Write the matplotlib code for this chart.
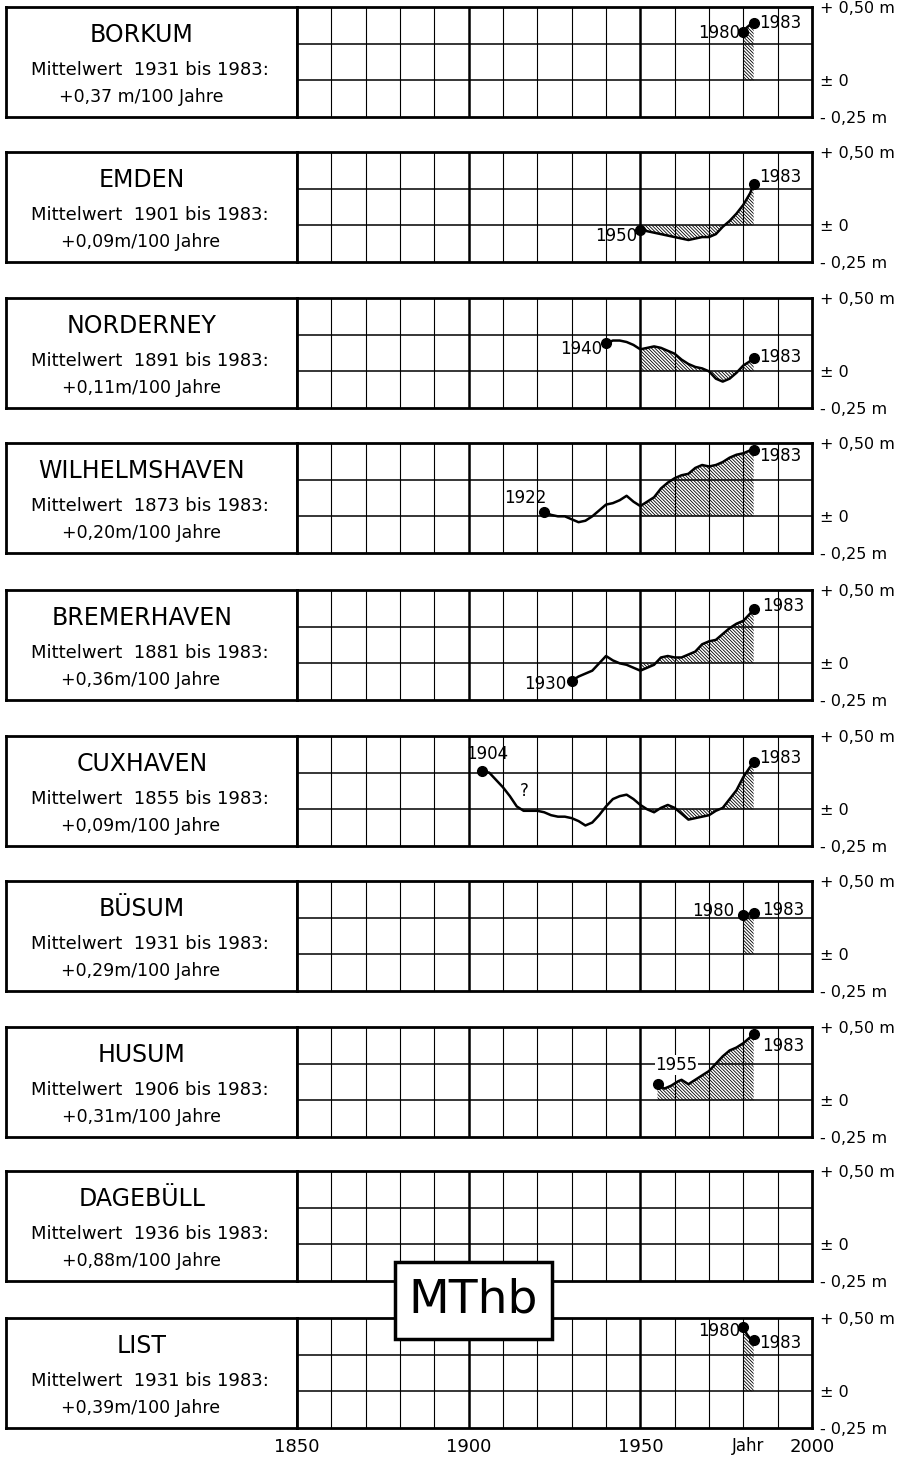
import numpy as np
import matplotlib.pyplot as plt
from matplotlib.patches import Rectangle

plt.rcParams['font.family'] = ['DejaVu Sans']
plt.rcParams['hatch.linewidth'] = 0.6

# station texts
stations = ['BORKUM', 'EMDEN', 'NORDERNEY', 'WILHELMSHAVEN', 'BREMERHAVEN',
            'CUXHAVEN', 'BÜSUM', 'HUSUM', 'DAGEBÜLL', 'LIST']
start_years = ['1931', '1901', '1891', '1873', '1881', '1855', '1931', '1906', '1936', '1931']
rates = ['+0,37 m/100 Jahre', '+0,09m/100 Jahre', '+0,11m/100 Jahre', '+0,20m/100 Jahre',
         '+0,36m/100 Jahre', '+0,09m/100 Jahre', '+0,29m/100 Jahre', '+0,31m/100 Jahre',
         '+0,88m/100 Jahre', '+0,39m/100 Jahre']

# mean high water curves (m)
borkum_years = [1980, 1981, 1982, 1983]
borkum_vals = [0.33, 0.36, 0.38, 0.39]

emden_years = [1950, 1952, 1954, 1956, 1958, 1960, 1962, 1964, 1966, 1968, 1970,
               1972, 1974, 1976, 1978, 1980, 1982, 1983]
emden_vals = [-0.03, -0.04, -0.05, -0.06, -0.07, -0.08, -0.09, -0.10, -0.09, -0.08,
              -0.08, -0.06, -0.01, 0.03, 0.08, 0.14, 0.22, 0.28]

norderney_years = [1940, 1942, 1944, 1946, 1948, 1950, 1952, 1954, 1956, 1958, 1960,
                   1962, 1964, 1966, 1968, 1970, 1972, 1974, 1976, 1978, 1980, 1982, 1983]
norderney_vals = [0.19, 0.21, 0.21, 0.20, 0.18, 0.15, 0.16, 0.17, 0.16, 0.14, 0.12,
                  0.08, 0.05, 0.03, 0.02, 0.00, -0.05, -0.07, -0.05, -0.01, 0.04, 0.07, 0.09]

wilhelmshaven_years = [1922, 1924, 1926, 1928, 1930, 1932, 1934, 1936, 1938, 1940, 1942,
                       1944, 1946, 1948, 1950, 1952, 1954, 1956, 1958, 1960, 1962, 1964,
                       1966, 1968, 1970, 1972, 1974, 1976, 1978, 1980, 1982, 1983]
wilhelmshaven_vals = [0.03, 0.01, 0.00, 0.00, -0.02, -0.04, -0.03, 0.00, 0.04, 0.08, 0.09,
                      0.11, 0.14, 0.10, 0.07, 0.10, 0.13, 0.19, 0.23, 0.26, 0.28, 0.29,
                      0.33, 0.35, 0.34, 0.35, 0.37, 0.40, 0.42, 0.43, 0.45, 0.45]

bremerhaven_years = [1930, 1932, 1934, 1936, 1938, 1940, 1942, 1944, 1946, 1948, 1950,
                     1952, 1954, 1956, 1958, 1960, 1962, 1964, 1966, 1968, 1970, 1972,
                     1974, 1976, 1978, 1980, 1982, 1983]
bremerhaven_vals = [-0.12, -0.09, -0.07, -0.05, 0.00, 0.05, 0.02, 0.00, -0.01, -0.03, -0.05,
                    -0.03, -0.01, 0.04, 0.05, 0.04, 0.04, 0.06, 0.08, 0.13, 0.15, 0.16,
                    0.20, 0.24, 0.27, 0.29, 0.34, 0.37]

cuxhaven_years = [1904, 1906, 1908, 1910, 1912, 1914, 1916, 1918, 1920, 1922, 1924, 1926,
                  1928, 1930, 1932, 1934, 1936, 1938, 1940, 1942, 1944, 1946, 1948, 1950,
                  1952, 1954, 1956, 1958, 1960, 1962, 1964, 1966, 1968, 1970, 1972, 1974,
                  1976, 1978, 1980, 1982, 1983]
cuxhaven_vals = [0.26, 0.25, 0.20, 0.15, 0.09, 0.02, -0.01, -0.01, -0.01, -0.02, -0.04, -0.05,
                 -0.05, -0.06, -0.08, -0.11, -0.09, -0.04, 0.02, 0.07, 0.09, 0.10, 0.07, 0.03,
                 0.00, -0.02, 0.01, 0.03, 0.01, -0.03, -0.07, -0.06, -0.05, -0.04, -0.01, 0.01,
                 0.07, 0.13, 0.22, 0.29, 0.32]

buesum_years = [1980, 1981, 1982, 1983]
buesum_vals = [0.27, 0.27, 0.28, 0.28]

husum_years = [1955, 1957, 1959, 1961, 1962, 1964, 1966, 1968, 1970, 1972, 1974, 1976,
               1978, 1980, 1981, 1982, 1983]
husum_vals = [0.11, 0.08, 0.10, 0.13, 0.14, 0.11, 0.14, 0.17, 0.20, 0.25, 0.30, 0.34,
              0.36, 0.39, 0.41, 0.43, 0.45]

list_years = [1980, 1981, 1982, 1983]
list_vals = [0.44, 0.39, 0.36, 0.35]

series = [(borkum_years, borkum_vals), (emden_years, emden_vals),
          (norderney_years, norderney_vals), (wilhelmshaven_years, wilhelmshaven_vals),
          (bremerhaven_years, bremerhaven_vals), (cuxhaven_years, cuxhaven_vals),
          (buesum_years, buesum_vals), (husum_years, husum_vals), None,
          (list_years, list_vals)]

# year labels next to the curves: (text, x, y, ha)
notes = [
    [('1980', 1979, 0.32, 'right'), ('1983', 1984.5, 0.39, 'left')],
    [('1950', 1949, -0.07, 'right'), ('1983', 1984.5, 0.33, 'left')],
    [('1940', 1939, 0.15, 'right'), ('1983', 1984.5, 0.095, 'left')],
    [('1922', 1916.5, 0.125, 'center'), ('1983', 1984.5, 0.41, 'left')],
    [('1930', 1928.5, -0.14, 'right'), ('1983', 1985.5, 0.39, 'left')],
    [('1904', 1905.5, 0.375, 'center'), ('1983', 1984.5, 0.35, 'left'), ('?', 1916.3, 0.125, 'center')],
    [('1980', 1977.5, 0.295, 'right'), ('1983', 1985.5, 0.30, 'left')],
    [('1955', 1960.5, 0.24, 'center'), ('1983', 1985.5, 0.37, 'left')],
    [],
    [('1980', 1979, 0.41, 'right'), ('1983', 1984.5, 0.33, 'left')],
]

W, H = 909, 1458
fig = plt.figure(figsize=(W / 100, H / 100), dpi=100)


def rect(x0, y0, x1, y1):
    return [x0 / W, 1 - y1 / H, (x1 - x0) / W, (y1 - y0) / H]


tops = [7, 152, 298, 443, 590, 736, 881, 1027, 1171, 1318]
panel_h = 110
x_left, x_mid, x_right = 6, 297, 812

for i, name in enumerate(stations):
    t = tops[i]
    b = t + panel_h

    # text box
    tax = fig.add_axes(rect(x_left, t, x_mid, b))
    tax.set_xticks([])
    tax.set_yticks([])
    for s in tax.spines.values():
        s.set_linewidth(2)
    tax.text(0.467, 0.745, name, ha='center', va='center', fontsize=17)
    tax.text(0.495, 0.43, f'Mittelwert  {start_years[i]} bis 1983:', ha='center',
             va='center', fontsize=13)
    tax.text(0.464, 0.18, rates[i], ha='center', va='center', fontsize=12.5)

    # chart
    ax = fig.add_axes(rect(x_mid, t, x_right, b))
    ax.set_xlim(1850, 2000)
    ax.set_ylim(-0.25, 0.5)
    for s in ax.spines.values():
        s.set_linewidth(2)
    for yr in range(1860, 2000, 10):
        lw = 1.8 if yr in (1900, 1950) else 0.8
        ax.axvline(yr, color='black', lw=lw, zorder=1)
    for lev in (0.0, 0.25):
        ax.axhline(lev, color='black', lw=1.1, zorder=1)

    ax.yaxis.tick_right()
    ax.set_yticks([-0.25, 0, 0.5])
    ax.set_yticklabels(['- 0,25 m', '± 0', '+ 0,50 m'], fontsize=11.5)
    ax.tick_params(axis='y', length=0, pad=6)

    if i == len(stations) - 1:
        ax.set_xticks([1850, 1900, 1950, 2000])
        ax.set_xticklabels(['1850', '1900', '1950', '2000'], fontsize=13)
        ax.tick_params(axis='x', length=0, pad=7)
        ax.text(1981.5, -0.165, 'Jahr', ha='center', va='center', fontsize=12,
                transform=ax.get_xaxis_transform(), clip_on=False)
    else:
        ax.set_xticks([])

    if series[i] is not None:
        x = np.array(series[i][0], dtype=float)
        y = np.array(series[i][1])
        m = x >= max(1950, x[0])
        ax.fill_between(x[m], y[m], 0, facecolor='none', edgecolor='black',
                        hatch='\\' * 10, lw=0, zorder=2)
        ax.plot(x, y, color='black', lw=1.8, zorder=3)
        ax.plot([x[0], x[-1]], [y[0], y[-1]], 'o', color='black', ms=7, zorder=4)

    for txt, nx, ny, ha in notes[i]:
        bb = dict(facecolor='white', edgecolor='none', pad=0.5) if txt == '1955' else None
        ax.text(nx, ny, txt, ha=ha, va='center', fontsize=12, zorder=5, bbox=bb)

# MThb label box
fig.add_artist(Rectangle((395 / W, 1 - 1339 / H), (552 - 395) / W, (1339 - 1262) / H,
                         transform=fig.transFigure, facecolor='white', edgecolor='black',
                         lw=2.5, zorder=10))
fig.text(473.5 / W, 1 - 1300 / H, 'MThb', ha='center', va='center', fontsize=34, zorder=11)

fig.savefig('out.png', dpi=100)
